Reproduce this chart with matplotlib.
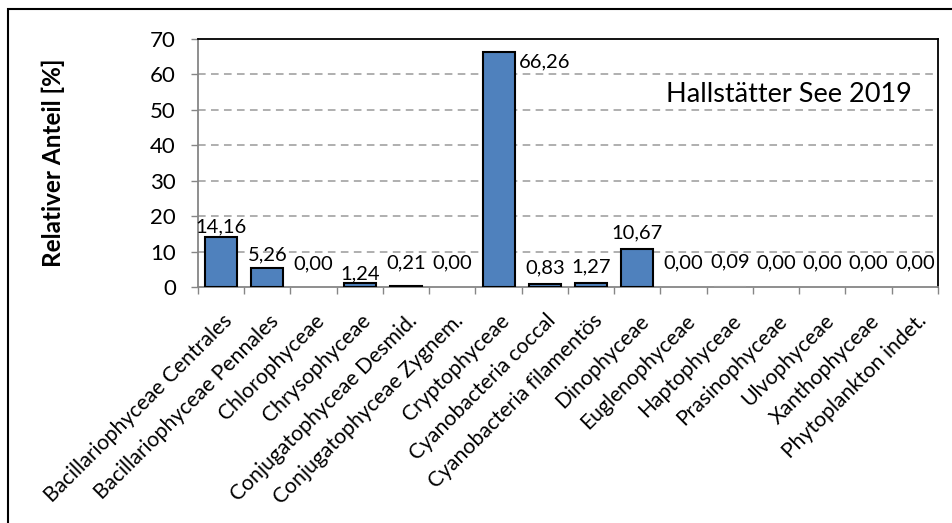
import matplotlib
matplotlib.use("Agg")
import matplotlib.pyplot as plt
from matplotlib.patches import Rectangle
from matplotlib.ticker import FixedLocator
from matplotlib.transforms import ScaledTranslation

plt.rcParams['font.family'] = ['Lato', 'DejaVu Sans']

categories = [
    "Bacillariophyceae Centrales", "Bacillariophyceae Pennales", "Chlorophyceae",
    "Chrysophyceae", "Conjugatophyceae Desmid.", "Conjugatophyceae Zygnem.",
    "Cryptophyceae", "Cyanobacteria coccal", "Cyanobacteria filamentös",
    "Dinophyceae", "Euglenophyceae", "Haptophyceae", "Prasinophyceae",
    "Ulvophyceae", "Xanthophyceae", "Phytoplankton indet.",
]
values = [14.16, 5.26, 0.00, 1.24, 0.21, 0.00, 66.26, 0.83, 1.27,
          10.67, 0.00, 0.09, 0.00, 0.00, 0.00, 0.00]
y_ticks = [0, 10, 20, 30, 40, 50, 60, 70]

# vertical gap (points) between bar top and label baseline, staggered to avoid overlaps
label_gap = [3, 6, 13, 2.5, 13, 13.5, 0, 8, 7, 7.5, 13.5, 14, 13.5, 13.5, 13.5, 13.5]

W, H = 953, 523
fig = plt.figure(figsize=(W / 100, H / 100), dpi=100)
ax = fig.add_axes([198 / W, 1 - 287 / H, (938 - 198) / W, (287 - 39) / H])

bar_color = "#4F81BD"
axis_gray = "#868686"
x = list(range(len(categories)))
for i, v in enumerate(values):
    ax.bar(i, v, width=0.69, color=bar_color,
           edgecolor="black" if v > 0.15 else "#999999",
           linewidth=1.5 if v > 0 else 0, zorder=3)

ax.set_xlim(-0.5, len(categories) - 0.5)
ax.set_ylim(0, 70)
ax.set_yticks(y_ticks)
ax.set_yticklabels([str(t) for t in y_ticks], fontsize=16)
for t in y_ticks[1:-1]:
    ax.axhline(t, color="#9a9a9a", linestyle=(0, (5, 3.5)), linewidth=1.1, zorder=1)

# value labels with decimal comma
for i, v in enumerate(values):
    txt = f"{v:.2f}".replace(".", ",")
    if v > 60:
        ax.annotate(txt, (i + 0.345, v), xytext=(3, -7), textcoords="offset points",
                    ha="left", va="center", fontsize=14.5)
    else:
        ax.annotate(txt, (i, v), xytext=(0, label_gap[i]), textcoords="offset points",
                    ha="center", va="baseline", fontsize=14.5)

# category tick marks sit between bars
ax.xaxis.set_major_locator(FixedLocator([i - 0.5 for i in range(len(categories) + 1)]))
ax.set_xticklabels([])
ax.tick_params(axis="x", which="major", direction="out", length=5, color=axis_gray, width=1)
ax.set_xticks(x, minor=True)
ax.set_xticklabels(categories, minor=True, rotation=45, ha="right",
                   rotation_mode="anchor", fontsize=15.2)
ax.tick_params(axis="x", which="minor", length=0, pad=17)
shift = ScaledTranslation(1 / 100, 0, fig.dpi_scale_trans)
for lbl in ax.get_xticklabels(minor=True):
    lbl.set_transform(lbl.get_transform() + shift)

ax.tick_params(axis="y", direction="out", length=5, color=axis_gray, width=1, pad=11)

for side in ("left", "bottom"):
    ax.spines[side].set_color(axis_gray)
    ax.spines[side].set_linewidth(1.3)
for side in ("top", "right"):
    ax.spines[side].set_color("black")
    ax.spines[side].set_linewidth(1.3)

ax.set_ylabel("Relativer Anteil [%]", fontsize=17.5, fontweight="bold")
ax.yaxis.set_label_coords(-0.18, 0.5)

ax.text(0.965, 0.775, "Hallstätter See 2019", transform=ax.transAxes,
        ha="right", va="center", fontsize=19.5)

# outer chart frame
fig.patches.append(Rectangle((8 / W, -0.1), 1.2, 1 - 9 / H + 0.1,
                             transform=fig.transFigure, fill=False,
                             edgecolor="black", linewidth=1.5))

fig.savefig("out.png", dpi=100)
